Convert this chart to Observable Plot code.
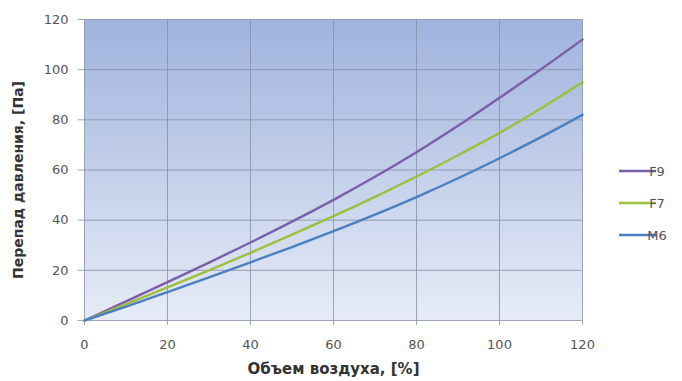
<!DOCTYPE html>
<html><head><meta charset="utf-8">
<script src="https://cdn.jsdelivr.net/npm/d3@7"></script>
<script src="https://cdn.jsdelivr.net/npm/@observablehq/plot@0.6"></script>
<style>body{margin:0;background:#fff;} #chart{position:relative;width:682px;height:381px;}</style>
</head><body><div id="chart"></div>
<script>
const airVolume = [0, 10, 20, 30, 40, 50, 60, 70, 80, 90, 100, 110, 120];
const F9 = [0, 7.6, 15.3, 23.1, 31.1, 39.4, 48.1, 57.3, 67.1, 77.6, 88.8, 100.2, 112];
const F7 = [0, 6.5, 13.2, 20, 27, 34.2, 41.6, 49.3, 57.4, 65.9, 74.8, 84.6, 95];
const M6 = [0, 5.5, 11.3, 17.2, 23.2, 29.3, 35.6, 42.2, 49.2, 56.7, 64.7, 73.1, 82];
const seriesNames = ["F9", "F7", "M6"];
const seriesColors = ["#7b5ea8", "#9cbf3c", "#4a7fc0"];
const xTicks = [0, 20, 40, 60, 80, 100, 120];
const yTicks = [0, 20, 40, 60, 80, 100, 120];
const xLabel = "Объем воздуха, [%]";
const yLabel = "Перепад давления, [Па]";

const seriesValues = [F9, F7, M6];
const rows = [];
seriesNames.forEach((s, i) => airVolume.forEach((x, j) => rows.push({series: s, x, y: seriesValues[i][j]})));

const FONT = "'DejaVu Sans', sans-serif";
const plot = Plot.plot({
  width: 682, height: 381,
  marginLeft: 84, marginRight: 100, marginTop: 19, marginBottom: 61,
  style: {fontFamily: FONT, fontSize: "13px", color: "#555", background: "transparent"},
  x: {domain: [0, 120], ticks: xTicks, label: null, tickSize: 0, tickPadding: 0},
  y: {domain: [0, 120], ticks: yTicks, label: null, tickSize: 0, tickPadding: 0},
  color: {domain: seriesNames, range: seriesColors},
  marks: [
    Plot.frame({fill: "url(#bgGrad)", stroke: null}),
    Plot.gridY(yTicks, {stroke: "#8590a8", strokeOpacity: 0.8, x1: -1.5, x2: 120}),
    Plot.gridX(xTicks, {stroke: "#8590a8", strokeOpacity: 0.8, y1: -2, y2: 120}),
    Plot.axisY(yTicks, {tickSize: 0, tickPadding: 16, fontSize: 13, fill: "#555", label: null}),
    Plot.axisX(xTicks, {tickSize: 0, tickPadding: 19, fontSize: 13, fill: "#555", label: null}),
    Plot.line(rows, {x: "x", y: "y", stroke: "series", strokeWidth: 2.4, curve: "natural"}),
    Plot.text([xLabel], {frameAnchor: "bottom", dy: 53, fontWeight: "bold", fontSize: 15, fill: "#333"}),
    Plot.text([yLabel], {frameAnchor: "left", textAnchor: "middle", dx: -66, dy: 10, rotate: -90, fontWeight: "bold", fontSize: 14, fill: "#333"})
  ]
});
document.getElementById("chart").appendChild(plot);

const svg = d3.select(plot);
const defs = svg.insert("defs", ":first-child");
const g = defs.append("linearGradient").attr("id", "bgGrad").attr("x1", 0).attr("y1", 0).attr("x2", 0).attr("y2", 1);
g.append("stop").attr("offset", "0%").attr("stop-color", "#a0b3de");
g.append("stop").attr("offset", "100%").attr("stop-color", "#e6ebf6");

// legend
const legendY = [171, 203, 235];
const lg = svg.append("g").attr("font-family", FONT).attr("font-size", 13);
seriesNames.forEach((s, i) => {
  lg.append("line").attr("x1", 619).attr("x2", 656).attr("y1", legendY[i]).attr("y2", legendY[i])
    .attr("stroke", seriesColors[i]).attr("stroke-width", 2.4);
  lg.append("text").attr("x", 657).attr("y", legendY[i]).attr("dy", "0.35em").attr("fill", "#555").text(s);
});
</script></body></html>
